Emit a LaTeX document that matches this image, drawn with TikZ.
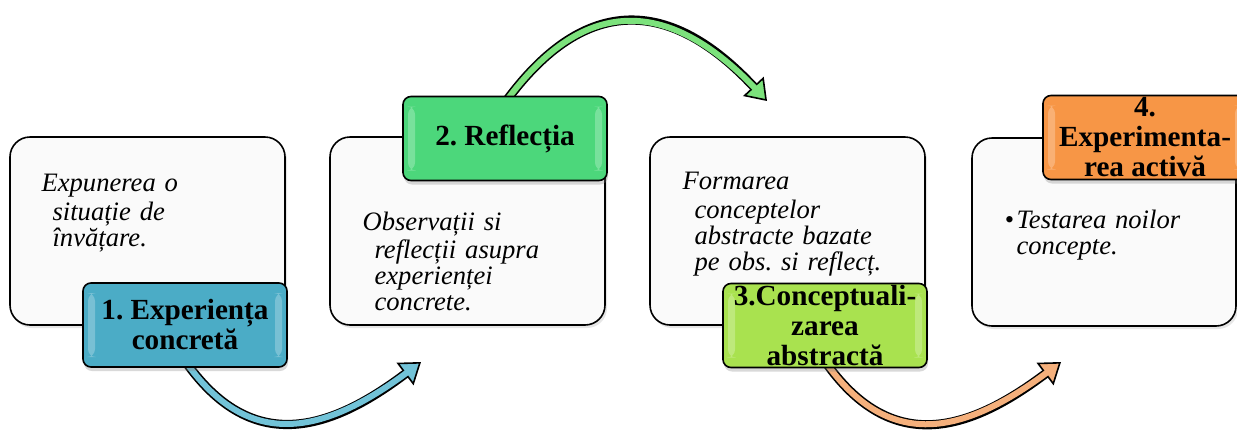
\documentclass[tikz,border=0pt]{standalone}
\usepackage{fontspec}
\setmainfont{Liberation Serif}
\usetikzlibrary{arrows.meta,shadows,backgrounds}

\definecolor{tagblue}{HTML}{4BACC6}
\definecolor{taggreen}{HTML}{4CD77B}
\definecolor{taglime}{HTML}{A9E24F}
\definecolor{tagorange}{HTML}{F79646}
\definecolor{bandblue}{HTML}{72C3D8}
\definecolor{bandgreen}{HTML}{7CE27C}
\definecolor{bandorange}{HTML}{F5B07C}

\newcommand{\tagtext}[1]{\parbox[c][30pt][c]{100pt}{\centering #1}}
\frenchspacing

\begin{document}
\begin{tikzpicture}[x=0.5pt,y=0.5pt,
  stage/.style={draw,line width=0.8pt,rounded corners=10pt,fill=black!2,
    minimum width=137.5pt,minimum height=94pt,
    drop shadow={shadow xshift=1pt,shadow yshift=-1.5pt,opacity=0.2}},
  tag/.style={draw,line width=0.8pt,rounded corners=4pt,fill=#1,inner sep=0pt,
    minimum width=102pt,minimum height=42pt,
    font=\bfseries\fontsize{14.6}{15}\selectfont,
    drop shadow={shadow xshift=0.5pt,shadow yshift=-2pt,opacity=0.3},
    path picture={
      \fill[white,opacity=0.25] ([xshift=2.5pt,yshift=-5pt]path picture bounding box.north west)
        rectangle ([xshift=6pt,yshift=5pt]path picture bounding box.south west);
      \fill[white,opacity=0.25] ([xshift=-6pt,yshift=-5pt]path picture bounding box.north east)
        rectangle ([xshift=-2.5pt,yshift=5pt]path picture bounding box.south east);
    }},
  desc/.style={anchor=north west,inner sep=0pt,text width=125pt,align=left,
    font=\itshape\fontsize{13.3}{13}\selectfont},
  bandout/.style={line width=4.6pt,-{Triangle[width=14pt,length=10pt,fill=#1,line width=0.8pt]}},
  bandin/.style={line width=3pt,#1,shorten >=6pt}
]
\clip (0,0) rectangle (1237,436);

\node[stage] (b1) at (147.5,205) {};
\node[stage] (b2) at (467.5,205) {};
\node[stage] (b3) at (787.5,205) {};
\node[stage,minimum width=132pt] (b4) at (1104,204) {};

\node[desc] (t1) at ([shift={(32,-37)}]b1.north west)
  {\leftskip=5.5pt\hspace*{-5.5pt}\strut Expunerea o\\situație de\\învățare.\par};
\node[desc] (t2) at ([shift={(33,-75)}]b2.north west)
  {\leftskip=6pt\hspace*{-6pt}\strut Observații si\\reflecții asupra\\experienței\\concrete.\par};
\node[desc] (t3) at ([shift={(33,-35)}]b3.north west)
  {\leftskip=6pt\hspace*{-6pt}\strut Formarea\\conceptelor\\abstracte bazate\\pe obs. si reflecț.\par};
\node[desc] (t4) at ([shift={(33,-72)}]b4.north west)
  {\leftskip=6pt\hspace*{-6pt}\strut\makebox[6pt][l]{\textbullet}Testarea noilor\\concepte.\par};

\node[tag=tagblue] (l1) at (185,111) {\tagtext{1. Experiența\\concretă}};
\node[tag=taggreen] (l2) at (505,297.5) {\tagtext{2. Reflecția}};
\node[tag=taglime] (l3) at (825,110.5) {\tagtext{3.Conceptuali-\\zarea\\abstractă}};
\node[tag=tagorange] (l4) at (1145,298.5) {\tagtext{4.\\Experimenta-\\rea activă}};

\coordinate (e1) at (421,74);
\coordinate (e2) at (767,335);
\coordinate (e3) at (1061,74);

\begin{scope}[on background layer]
\draw[bandout=bandblue] ([yshift=3.5pt]l1.south) to[out=-55,in=217,looseness=1.25] (e1);
\draw[bandin=bandblue] ([yshift=3.5pt]l1.south) to[out=-55,in=217,looseness=1.25] (e1);
\draw[bandout=bandgreen] ([yshift=-3.5pt]l2.north) to[out=54,in=133,looseness=1.35] (e2);
\draw[bandin=bandgreen] ([yshift=-3.5pt]l2.north) to[out=54,in=133,looseness=1.35] (e2);
\draw[bandout=bandorange] ([yshift=3.5pt]l3.south) to[out=-55,in=217,looseness=1.25] (e3);
\draw[bandin=bandorange] ([yshift=3.5pt]l3.south) to[out=-55,in=217,looseness=1.25] (e3);
\end{scope}
\end{tikzpicture}
\end{document}
